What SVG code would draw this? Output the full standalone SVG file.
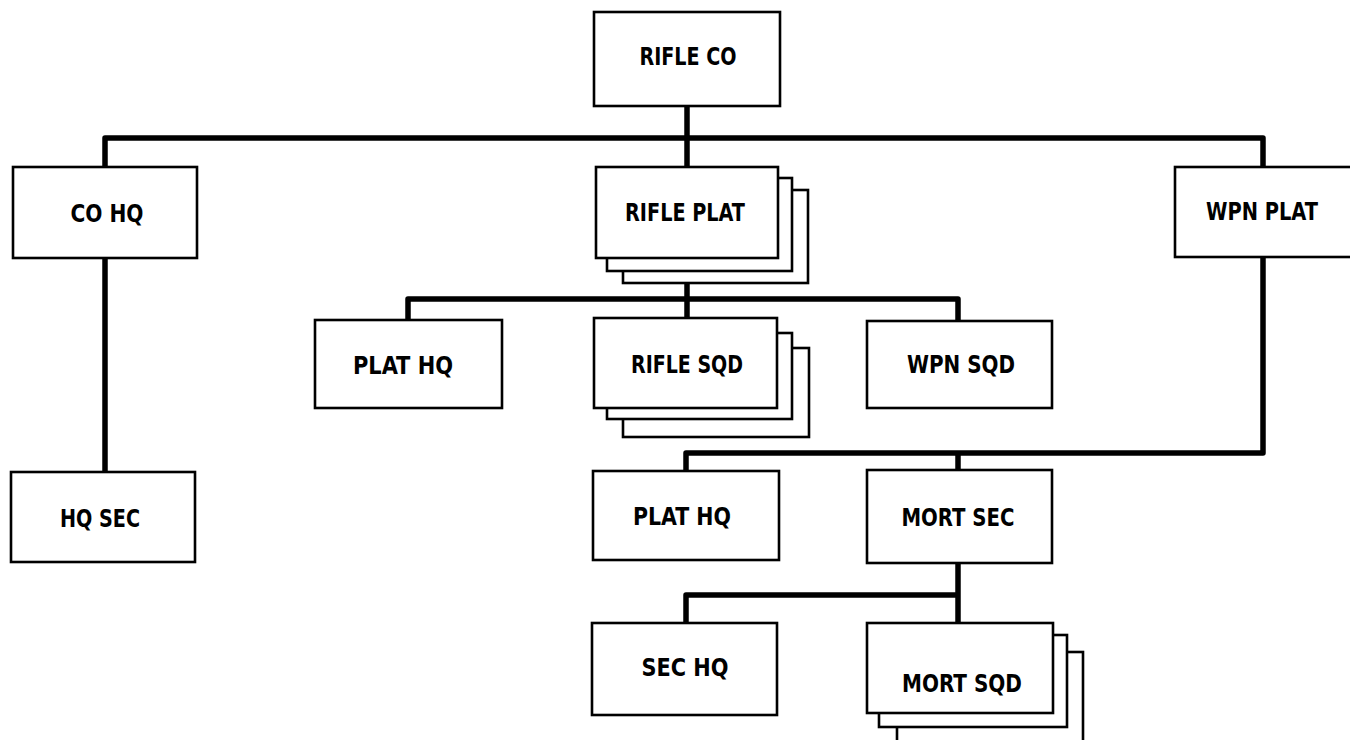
<svg xmlns="http://www.w3.org/2000/svg" width="1350" height="740" viewBox="0 0 1350 740">
<style>
.box{fill:#fff;stroke:#000;stroke-width:2.6}
.con{fill:none;stroke:#000;stroke-width:5.5;stroke-linejoin:round}
.lbl{font-family:"DejaVu Sans Condensed","DejaVu Sans",sans-serif;font-weight:bold;font-size:25px;fill:#000;text-anchor:middle}
</style>
<rect width="1350" height="740" fill="#fff"/>
<g id="connectors">
<path class="con" d="M105,167 V138 H1263 V167"/>
<path class="con" d="M687,106 V167"/>
<path class="con" d="M105,258 V472"/>
<path class="con" d="M687,258 V318"/>
<path class="con" d="M408,320 V299 H958 V321"/>
<path class="con" d="M1263,257 V453 H686 V471"/>
<path class="con" d="M958,453 V470"/>
<path class="con" d="M958,563 V623"/>
<path class="con" d="M686,623 V595 H958"/>
</g>
<g id="rifle-co"><rect class="box" x="594" y="12" width="186" height="94"/><text class="lbl" x="688" y="65" textLength="97" lengthAdjust="spacingAndGlyphs">RIFLE CO</text></g>
<g id="co-hq"><rect class="box" x="13" y="167" width="184" height="91"/><text class="lbl" x="107" y="222" textLength="73" lengthAdjust="spacingAndGlyphs">CO HQ</text></g>
<g id="rifle-plat">
<rect class="box" x="623" y="190" width="185" height="93"/>
<rect class="box" x="607" y="178" width="185" height="93"/>
<rect class="box" x="596" y="167" width="182" height="91"/>
<text class="lbl" x="685" y="221" textLength="120" lengthAdjust="spacingAndGlyphs">RIFLE PLAT</text></g>
<g id="wpn-plat"><rect class="box" x="1175" y="167" width="200" height="90"/><text class="lbl" x="1262" y="220" textLength="112" lengthAdjust="spacingAndGlyphs">WPN PLAT</text></g>
<g id="hq-sec"><rect class="box" x="11" y="472" width="184" height="90"/><text class="lbl" x="100" y="527" textLength="80" lengthAdjust="spacingAndGlyphs">HQ SEC</text></g>
<g id="plat-hq-1"><rect class="box" x="315" y="320" width="187" height="88"/><text class="lbl" x="403" y="374" textLength="100" lengthAdjust="spacingAndGlyphs">PLAT HQ</text></g>
<g id="rifle-sqd">
<rect class="box" x="623" y="348" width="186" height="89"/>
<rect class="box" x="607" y="333" width="185" height="86"/>
<rect class="box" x="594" y="318" width="183" height="90"/>
<text class="lbl" x="687" y="373" textLength="112" lengthAdjust="spacingAndGlyphs">RIFLE SQD</text></g>
<g id="wpn-sqd"><rect class="box" x="867" y="321" width="185" height="87"/><text class="lbl" x="961" y="373" textLength="108" lengthAdjust="spacingAndGlyphs">WPN SQD</text></g>
<g id="plat-hq-2"><rect class="box" x="593" y="471" width="186" height="89"/><text class="lbl" x="682" y="525" textLength="98" lengthAdjust="spacingAndGlyphs">PLAT HQ</text></g>
<g id="mort-sec"><rect class="box" x="867" y="470" width="185" height="93"/><text class="lbl" x="958" y="526" textLength="113" lengthAdjust="spacingAndGlyphs">MORT SEC</text></g>
<g id="sec-hq"><rect class="box" x="592" y="623" width="185" height="92"/><text class="lbl" x="685" y="676" textLength="87" lengthAdjust="spacingAndGlyphs">SEC HQ</text></g>
<g id="mort-sqd">
<rect class="box" x="897" y="652" width="186" height="110"/>
<rect class="box" x="879" y="635" width="188" height="92"/>
<rect class="box" x="867" y="623" width="186" height="90"/>
<text class="lbl" x="962" y="692" textLength="120" lengthAdjust="spacingAndGlyphs">MORT SQD</text></g>
</svg>
